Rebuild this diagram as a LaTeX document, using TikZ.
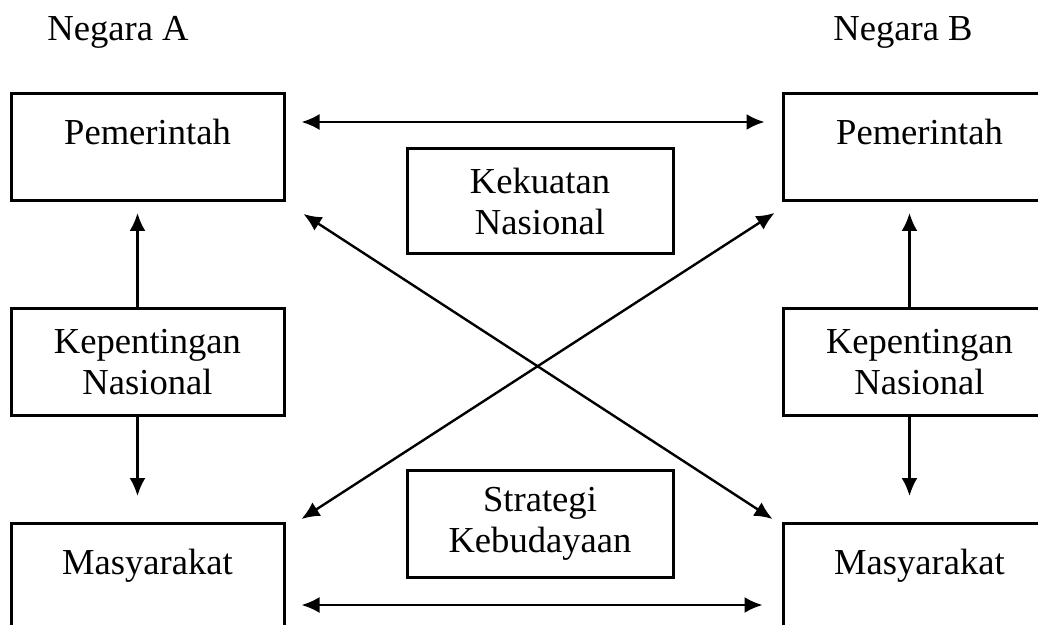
\documentclass[tikz,border=0pt]{standalone}
\usepackage{fontspec}
\setmainfont{Liberation Serif}
\usetikzlibrary{arrows.meta,positioning}

\begin{document}
\begin{tikzpicture}[x=0.5pt,y=-0.5pt,node distance=52.5pt and 248pt,>={Latex[length=9pt,width=8pt]},
font=\fontsize{18.3pt}{20.5pt}\selectfont,
box/.style={draw,line width=1.5pt,minimum width=136.5pt,minimum height=53.5pt,inner sep=4pt},
topbox/.style={box,text height=21.5pt,text depth=24pt},
midbox/.style={box,minimum width=133pt,align=center},
arr/.style={<->,line width=1.2pt},
varr/.style={->,line width=1.2pt}]
\clip (0,0) rectangle (1038,625);
\fill[white] (0,0) rectangle (1038,625);
\node (ngA) at (118,32) {Negara A};
\node (ngB) at (903,32) {Negara B};
\node[topbox] (pemA) at (147.5,147) {Pemerintah};
\node[box,align=center,below=of pemA] (kepA) {Kepentingan\\Nasional};
\node[topbox,below=of kepA] (masA) {Masyarakat};
\node[topbox,right=of pemA] (pemB) {Pemerintah};
\node[box,align=center,below=of pemB] (kepB) {Kepentingan\\Nasional};
\node[topbox,below=of kepB] (masB) {Masyarakat};
\node[midbox,minimum height=52.5pt] (kuat) at (540,201.5) {Kekuatan\\Nasional};
\node[midbox,minimum height=53.5pt] (strat) at (540,523.5) {Strategi\\Kebudayaan};
% hubungan antar negara
\draw[arr] ([shift={(8pt,12.5pt)}]pemA.east) -- ([shift={(-8.5pt,12.5pt)}]pemB.west);
\draw[arr] ([shift={(8pt,-14pt)}]masA.east) -- ([shift={(-9.5pt,-14pt)}]masB.west);
\draw[arr] ([shift={(9pt,-6pt)}]pemA.south east) -- ([shift={(-4.5pt,1.5pt)}]masB.north west);
\draw[arr] ([shift={(8pt,1.5pt)}]masA.north east) -- ([shift={(-3.5pt,-5.5pt)}]pemB.south west);
\foreach \s in {A,B}{
  \draw[varr] ([xshift=-5pt]kep\s.north) -- ([xshift=-5pt,yshift=-5.5pt]pem\s.south);
  \draw[varr] ([xshift=-5pt]kep\s.south) -- ([xshift=-5pt,yshift=13pt]mas\s.north);
}
\end{tikzpicture}
\end{document}
